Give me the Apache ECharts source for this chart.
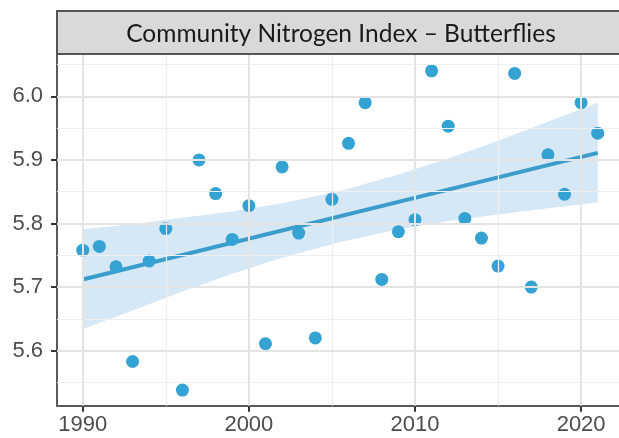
<!DOCTYPE html>
<html><head><meta charset="utf-8">
<script src="https://cdn.jsdelivr.net/npm/echarts@6/dist/echarts.min.js"></script>
<style>html,body{margin:0;padding:0;background:#fff}#c{width:619px;height:438px}</style>
</head><body><div id="c"></div>
<script>
const chartTitle = 'Community Nitrogen Index – Butterflies';
const years = [1990,1991,1992,1993,1994,1995,1996,1997,1998,1999,2000,2001,2002,2003,2004,2005,2006,2007,2008,2009,2010,2011,2012,2013,2014,2015,2016,2017,2018,2019,2020,2021];
const values = [5.758,5.764,5.732,5.583,5.741,5.792,5.538,5.900,5.847,5.775,5.828,5.611,5.889,5.785,5.620,5.838,5.926,5.990,5.712,5.787,5.806,6.040,5.953,5.808,5.777,5.733,6.036,5.700,5.908,5.846,5.990,5.942];
const fitYears = [1990, 2021];
const fitValues = [5.712, 5.911];
const bandYears = [1990,1993,1996,1999,2002,2005.5,2009,2012,2015,2018,2021];
const bandLower = [5.634,5.663,5.693,5.721,5.746,5.771,5.791,5.804,5.814,5.824,5.833];
const bandUpper = [5.791,5.799,5.809,5.819,5.832,5.851,5.877,5.902,5.930,5.960,5.990];
const xTicks = [1990, 2000, 2010, 2020];
const xMinor = [1995, 2005, 2015];
const yTicks = [5.6, 5.7, 5.8, 5.9, 6.0];
const yMinor = [5.55, 5.65, 5.75, 5.85, 5.95, 6.05];

const chart = echarts.init(document.getElementById('c'), null, {renderer: 'canvas'});
const majorStyle = {color: '#e4e4e4', width: 2, type: 'solid'};
const minorStyle = {color: '#efefef', width: 1.2, type: 'solid'};
const gridLines = []
  .concat(xMinor.map(v => ({xAxis: v, lineStyle: minorStyle})))
  .concat(yMinor.map(v => ({yAxis: v, lineStyle: minorStyle})))
  .concat(xTicks.map(v => ({xAxis: v, lineStyle: majorStyle})))
  .concat(yTicks.map(v => ({yAxis: v, lineStyle: majorStyle})));

const labelStyle = {color: '#4d4d4d', fontSize: 22, fontFamily: 'Liberation Sans, Arial, sans-serif'};
const borderLine = {show: true, onZero: false, lineStyle: {color: '#5a5a5a', width: 2}};

chart.setOption({
  animation: false,
  backgroundColor: '#ffffff',
  grid: {left: 57, right: 0, top: 54, bottom: 32.3, show: false, containLabel: false},
  xAxis: {
    type: 'value', min: 1988.45, max: 2022.28,
    axisLine: borderLine,
    axisTick: {show: true, length: 6, lineStyle: {color: '#333', width: 2}, customValues: xTicks},
    axisLabel: Object.assign({margin: 8, customValues: xTicks, formatter: v => String(v)}, labelStyle),
    splitLine: {show: false}
  },
  yAxis: {
    type: 'value', min: 5.5135, max: 6.0665,
    axisLine: borderLine,
    axisTick: {show: true, length: 6, lineStyle: {color: '#333', width: 2}, customValues: yTicks},
    axisLabel: Object.assign({margin: 14, customValues: yTicks, formatter: v => v.toFixed(1)}, labelStyle),
    splitLine: {show: false}
  },
  graphic: [
    {type: 'rect', z: 10, shape: {x: 57, y: 11, width: 620, height: 43}, style: {fill: '#d9d9d9', stroke: '#555555', lineWidth: 2}},
    {type: 'text', z: 11, x: 341, y: 34, style: {text: chartTitle, fill: '#1a1a1a', fontSize: 24.5, fontFamily: 'Lato, sans-serif', align: 'center', verticalAlign: 'middle'}}
  ],
  series: [
    {type: 'scatter', z: 1, data: [], silent: true,
     markLine: {silent: true, symbol: ['none', 'none'], label: {show: false}, animation: false, data: gridLines}},
    {type: 'custom', z: 2, silent: true, data: [[0]],
     renderItem: function (params, api) {
       const pts = [];
       for (let i = 0; i < bandYears.length; i++) pts.push(api.coord([bandYears[i], bandUpper[i]]));
       for (let i = bandYears.length - 1; i >= 0; i--) pts.push(api.coord([bandYears[i], bandLower[i]]));
       return {type: 'polygon', shape: {points: pts}, style: {fill: '#d6e7f5'}};
     }},
    {type: 'line', z: 3, data: fitYears.map((y, i) => [y, fitValues[i]]), symbol: 'none',
     lineStyle: {color: '#3a9dcc', width: 4}},
    {type: 'scatter', z: 4, data: years.map((y, i) => [y, values[i]]), symbolSize: 13,
     itemStyle: {color: '#35a2d4', opacity: 1}}
  ]
});
</script></body></html>
